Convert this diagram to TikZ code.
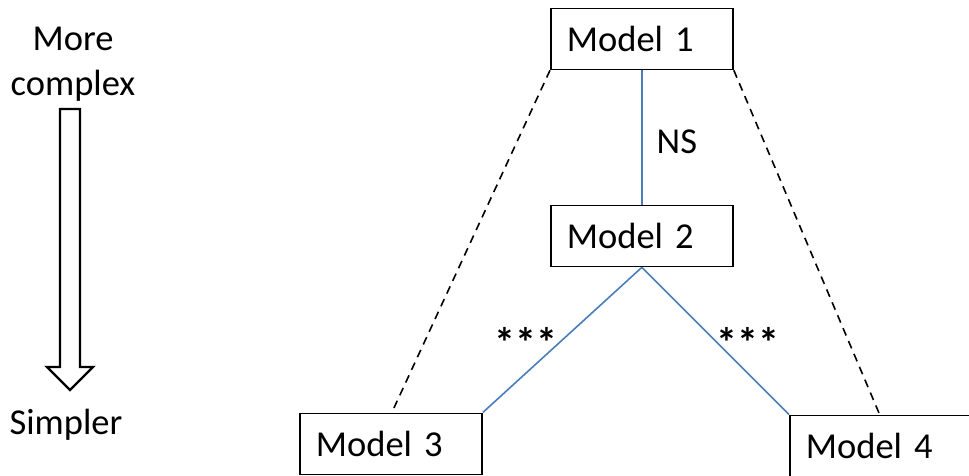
\documentclass[tikz,border=0pt]{standalone}
\usepackage{fontspec}
\setmainfont{Carlito}
\definecolor{linkblue}{HTML}{4A7EBB}
\begin{document}
\begin{tikzpicture}[x=1pt,y=-1pt,
  every node/.style={font=\fontsize{36.5}{45}\selectfont, inner sep=0pt},
  modelbox/.style={draw=black, line width=1.8pt, minimum width=182pt, minimum height=61pt,
    text width=150pt, inner xsep=16pt, align=left, anchor=north west, fill=white},
  stars/.style={font=\fontsize{42}{45}\selectfont\bfseries},
  sig/.style={draw=linkblue, line width=1.6pt},
  nonsig/.style={draw=black, line width=1.6pt, dash pattern=on 8pt off 6pt}]
\useasboundingbox (0,0) rectangle (969,475);
\clip (0,0) rectangle (969,475);
% boxes
\node[modelbox] (m1) at (550,7.5) {Model 1};
\node[modelbox] (m2) at (550,204.5) {Model 2};
\node[modelbox] (m3) at (299,412.5) {Model 3};
\node[modelbox] (m4) at (789,414.5) {Model 4};
% connectors
\draw[sig] (m1.south) -- (m2.north) node[pos=0.53, right=14pt, black] (ns) {NS};
\draw[sig] (m2.south) -- (m3.north east);
\draw[sig] (m2.south) -- (m4.north west);
\coordinate (d3) at (393,410);
\coordinate (d4) at (879,413);
\draw[nonsig] (m1.south west) -- (d3);
\draw[nonsig] (m1.south east) -- (d4);
\node[stars] (s1) at (526,342) {***};
\node[stars] (s2) at (748,342) {***};
% left legend
\node[align=center] (top) at (73,64) {More\\complex};
\node (bot) at (66,425) {Simpler};
\draw[black, line width=2.4pt, line join=miter, fill=white]
  (60,109) -- (80,109) -- (80,367) -- (93,367) -- (70,390) -- (47,367) -- (60,367) -- cycle;
\end{tikzpicture}
\end{document}
